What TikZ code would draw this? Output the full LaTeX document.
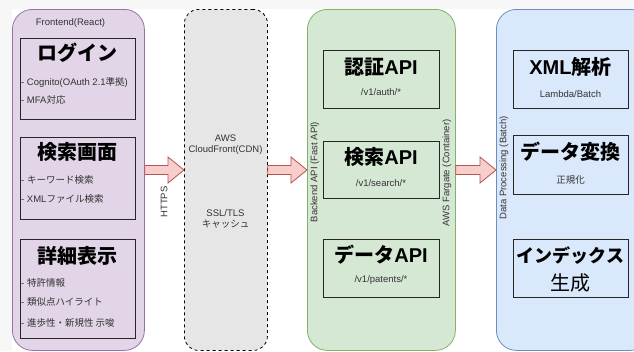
\documentclass[tikz,border=0pt]{standalone}
\usepackage{fontspec}
\setmainfont{Liberation Sans}
\newfontfamily\jpfont{Noto Sans CJK JP}
\usetikzlibrary{calc}
\definecolor{pagebg}{HTML}{F7F7F7}
\definecolor{frontfill}{HTML}{E1D5E7}
\definecolor{frontline}{HTML}{9673A6}
\definecolor{cdnfill}{HTML}{E6E6E6}
\definecolor{backfill}{HTML}{D5E8D4}
\definecolor{backline}{HTML}{82B366}
\definecolor{datafill}{HTML}{DAE8FC}
\definecolor{dataline}{HTML}{6C8EBF}
\definecolor{arrowfill}{HTML}{F8CECC}
\definecolor{arrowline}{HTML}{B85450}
\newcommand{\ja}[1]{{\jpfont #1}}
% block arrow from #1 to #2 (same height)
\newcommand{\fatarrow}[2]{%
  \path[fat] let \p1=(#1), \p2=(#2) in
    (\x1,\y1+4.5pt) -- (\x2-16pt,\y1+4.5pt) -- (\x2-16pt,\y1+13pt) -- (\x2,\y1)
    -- (\x2-16pt,\y1-13pt) -- (\x2-16pt,\y1-4.5pt) -- (\x1,\y1-4.5pt) -- cycle;}

\begin{document}
\begin{tikzpicture}[
    x=1pt, y=-1pt,
    font=\fontsize{9.5}{11}\selectfont,
    lane/.style={draw, line width=0.8pt, rounded corners=20pt, anchor=north west,
                 inner sep=0pt, minimum height=341pt},
    card/.style={draw=black!85, line width=0.8pt, anchor=north west, inner sep=0pt},
    head/.style={font=\fontsize{20}{22}\selectfont\bfseries, inner sep=0pt},
    item/.style={anchor=west, text=black!80, inner sep=0pt},
    sub/.style={text=black!80, inner sep=0pt, align=center},
    side/.style={rotate=90, text=black!80, inner sep=0pt},
    fat/.style={draw=arrowline, fill=arrowfill, line width=0.8pt, line join=miter},
]
\useasboundingbox (0,0) rectangle (634,351);
\clip (0,0) rectangle (634,351);
\fill[pagebg] (0,0) rectangle (634,351);
\fill[white] (12,9) rectangle (634,351);

% ---- Frontend ----
\node[lane, fill=frontfill, draw=frontline, minimum width=132pt] (front) at (12,9) {};
\node[sub] (frontlab) at (70.5,23) {Frontend(React)};

\node[card, minimum width=115pt, minimum height=81pt] (login) at (20,38) {};
\node[head] at (77.5,53) {\ja{ログイン}};
\node[item] at (21,82) {- Cognito(OAuth 2.1\ja{準拠})};
\node[item] at (21,100) {- MFA\ja{対応}};

\node[card, minimum width=115pt, minimum height=82pt] (search) at (20,137) {};
\node[head] at (77.5,152) {\ja{検索画面}};
\node[item] at (21,180) {- \ja{キーワード検索}};
\node[item] at (21,199) {- XML\ja{ファイル検索}};

\node[card, minimum width=115pt, minimum height=99pt] (detail) at (20,239) {};
\node[head] at (77.5,256) {\ja{詳細表示}};
\node[item] at (21,283) {- \ja{特許情報}};
\node[item] at (21,302) {- \ja{類似点ハイライト}};
\node[item] at (21,323) {- \ja{進歩性・新規性 示唆}};

% ---- CDN ----
\node[lane, fill=cdnfill, draw=black, dash pattern=on 3pt off 3pt,
      rounded corners=14pt, minimum width=83pt] (cdn) at (184,9) {};
\node[sub] (cdnname) at (225.5,145) {AWS\\CloudFront(CDN)};
\node[sub] (cdnrole) at (225.5,218.5) {SSL/TLS\\\ja{キャッシュ}};
\node[side] (https) at (164,202) {HTTPS};

% ---- Backend ----
\node[lane, fill=backfill, draw=backline, minimum width=148pt] (back) at (307,9) {};
\node[side] at (315,172) {Backend API (Fast API)};
\node[side] at (447,173) {AWS Fargate (Container)};

\node[card, minimum width=116pt, minimum height=58pt] (auth) at (323,50) {};
\node[head] at (381,67) {\ja{認証}API};
\node[sub] at (381,92) {/v1/auth/*};

\node[card, minimum width=116pt, minimum height=57pt] (searchapi) at (323,141) {};
\node[head] at (381,157) {\ja{検索}API};
\node[sub] at (381,183) {/v1/search/*};

\node[card, minimum width=116pt, minimum height=58pt] (dataapi) at (323,239) {};
\node[head] at (381,255) {\ja{データ}API};
\node[sub] at (381,280) {/v1/patents/*};

% ---- Data Processing ----
\node[lane, fill=datafill, draw=dataline, minimum width=154pt] (data) at (496,9) {};
\node[side] at (504,168) {Data Processing (Batch)};

\node[card, minimum width=115pt, minimum height=58pt] (parse) at (513,50) {};
\node[head] at (570.5,67) {XML\ja{解析}};
\node[sub] at (570.5,94) {Lambda/Batch};

\node[card, minimum width=115pt, minimum height=59pt] (convert) at (513,135) {};
\node[head] at (570.5,152) {\ja{データ変換}};
\node[sub] at (570.5,180) {\ja{正規化}};

\node[card, minimum width=115pt, minimum height=58pt] (index) at (513,239) {};
\node[head, font=\fontsize{18}{22}\selectfont\bfseries] at (570.5,256) {\ja{インデックス}};
\node[inner sep=0pt, font=\fontsize{20}{22}\selectfont] at (570.5,283) {\ja{生成}};

% ---- flows ----
\coordinate (flow) at (0,170);
\fatarrow{front.east |- flow}{cdn.west |- flow}
\fatarrow{cdn.east |- flow}{back.west |- flow}
\fatarrow{back.east |- flow}{data.west |- flow}
\end{tikzpicture}
\end{document}
